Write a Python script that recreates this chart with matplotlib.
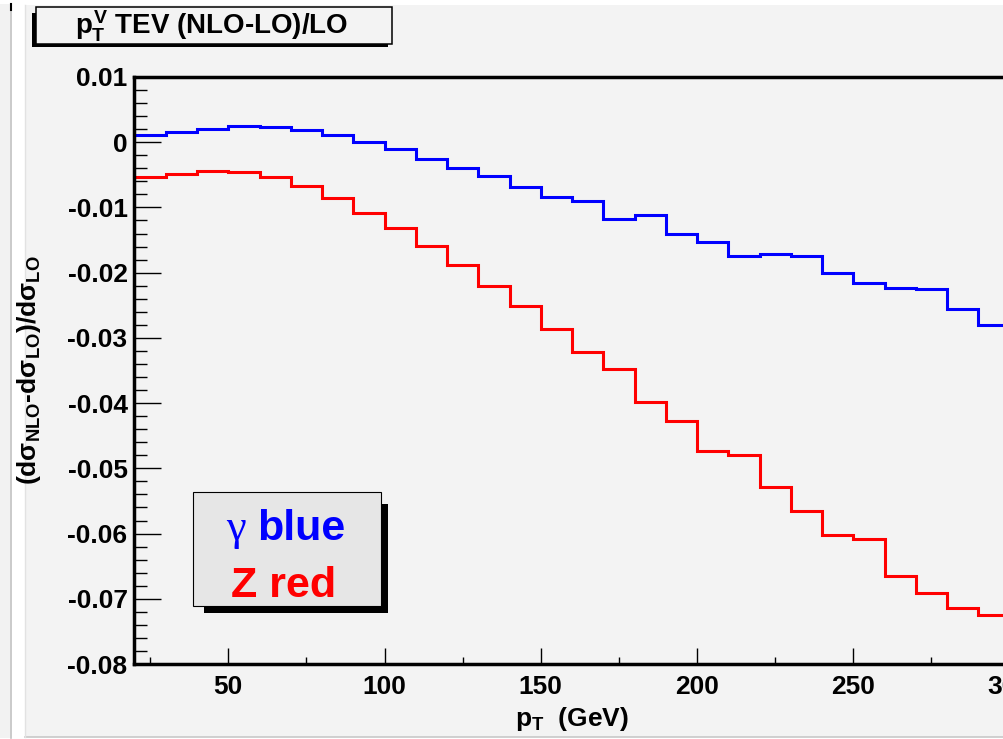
import matplotlib
matplotlib.use("Agg")
import matplotlib.pyplot as plt
from matplotlib.patches import Rectangle
from matplotlib.lines import Line2D
from matplotlib.ticker import MultipleLocator, FuncFormatter

# Fuentes estilo ROOT (Helvetica bold -> Liberation Sans bold)
plt.rcParams['font.family'] = ['Liberation Sans', 'DejaVu Sans']
plt.rcParams['font.weight'] = 'bold'
plt.rcParams['axes.labelweight'] = 'bold'
plt.rcParams['mathtext.fontset'] = 'custom'
plt.rcParams['mathtext.rm'] = 'Liberation Sans:bold'
plt.rcParams['mathtext.it'] = 'Liberation Sans:bold'
plt.rcParams['mathtext.bf'] = 'Liberation Sans:bold'

# Bordes de los bins (GeV)
edges = [20, 30, 40, 50, 60, 70, 80, 90, 100, 110, 120, 130, 140, 150, 160,
         170, 180, 190, 200, 210, 220, 230, 240, 250, 260, 270, 280, 290, 300]

# (NLO-LO)/LO para el foton (azul)
gamma_vals = [0.0011, 0.0016, 0.0021, 0.0025, 0.0024, 0.0019, 0.0011, 0.0000,
              -0.0011, -0.0025, -0.0039, -0.0052, -0.0068, -0.0084, -0.0090,
              -0.0118, -0.0112, -0.0141, -0.0153, -0.0175, -0.0171, -0.0175,
              -0.0201, -0.0216, -0.0224, -0.0225, -0.0256, -0.0280]

# (NLO-LO)/LO para el Z (rojo)
z_vals = [-0.0053, -0.0048, -0.0044, -0.0046, -0.0054, -0.0067, -0.0085,
          -0.0108, -0.0131, -0.0159, -0.0188, -0.0221, -0.0251, -0.0286,
          -0.0322, -0.0347, -0.0399, -0.0427, -0.0473, -0.0480, -0.0529,
          -0.0565, -0.0602, -0.0608, -0.0665, -0.0691, -0.0714, -0.0725]

W, H = 1004, 739
PAD = '#f3f3f3'


def fx(x):
    return x / W


def fy(y):
    return 1 - y / H


fig = plt.figure(figsize=(W / 100, H / 100), dpi=100)
fig.patch.set_facecolor('white')

# Fondo tipo canvas de ROOT
fig.patches.append(Rectangle((0, fy(738)), fx(12), (738 - 4) / H, transform=fig.transFigure,
                             facecolor='#f2f2f2', edgecolor='none', zorder=-10))
fig.lines.append(Line2D([fx(11.5), fx(11.5)], [fy(4), fy(738)], transform=fig.transFigure,
                        color='#c4c4c4', lw=1.2, zorder=-9))
fig.lines.append(Line2D([fx(11.5), fx(11.5)], [fy(4), fy(10)], transform=fig.transFigure,
                        color='black', lw=1.5, zorder=-8))
fig.patches.append(Rectangle((fx(25), fy(737)), fx(W - 25), (737 - 5) / H, transform=fig.transFigure,
                             facecolor=PAD, edgecolor='none', zorder=-10))
fig.lines.append(Line2D([fx(25), fx(W)], [fy(737), fy(737)], transform=fig.transFigure,
                        color='#c8c8c8', lw=1.2, zorder=-9))
fig.lines.append(Line2D([fx(25), fx(25)], [fy(5), fy(737)], transform=fig.transFigure,
                        color='#e2e2e2', lw=1.0, zorder=-9))

# Ejes (el borde derecho queda fuera de la imagen, como en el original)
ax = fig.add_axes([fx(134.5), fy(664), 875 / W, 587 / H])
ax.set_facecolor(PAD)
ax.stairs(gamma_vals, edges, baseline=None, color='#0000ff', lw=2.2)
ax.stairs(z_vals, edges, baseline=None, color='#ff0000', lw=2.2)

ax.set_xlim(20, 300)
ax.set_ylim(-0.08, 0.01)

for s in ['left', 'bottom', 'top']:
    ax.spines[s].set_linewidth(2.5)
ax.spines['right'].set_visible(False)

ax.xaxis.set_major_locator(MultipleLocator(50))
ax.xaxis.set_minor_locator(MultipleLocator(25))
ax.yaxis.set_major_locator(MultipleLocator(0.01))
ax.yaxis.set_minor_locator(MultipleLocator(0.002))


def yfmt(v, pos):
    if abs(v) < 1e-9:
        return '0'
    return f'{round(v, 3):g}'


ax.yaxis.set_major_formatter(FuncFormatter(yfmt))
ax.tick_params(axis='both', which='both', direction='in', width=1, labelsize=19)
ax.tick_params(axis='y', which='major', length=19.4, pad=5)
ax.tick_params(axis='y', which='minor', length=9.4)
ax.tick_params(axis='x', which='major', length=11.5, pad=8)
ax.tick_params(axis='x', which='minor', length=5)

ax.set_xlabel(r'p$_{T}$  (GeV)', fontsize=19, fontweight='bold')
ax.xaxis.set_label_coords(0.5, -0.07)
ax.set_ylabel(r'(dσ$_{NLO}$-dσ$_{LO}$)/dσ$_{LO}$', fontsize=19, fontweight='bold')
ax.yaxis.set_label_coords(-0.105, 0.5)

# Caja del titulo con sombra
fig.patches.append(Rectangle((fx(32), fy(47)), fx(388 - 32), (47 - 13) / H, transform=fig.transFigure,
                             facecolor='black', edgecolor='none', zorder=5))
fig.patches.append(Rectangle((fx(36), fy(44)), fx(392 - 36), (44 - 7) / H, transform=fig.transFigure,
                             facecolor=PAD, edgecolor='black', lw=1.1, zorder=6))
fig.text(fx(212), fy(34), r'$p_T^V$ TEV (NLO-LO)/LO', fontsize=20, ha='center', va='baseline', zorder=7)

# Caja de leyenda con sombra
fig.patches.append(Rectangle((fx(204), fy(613)), fx(388 - 204), (613 - 504) / H, transform=fig.transFigure,
                             facecolor='black', edgecolor='none', zorder=5))
fig.patches.append(Rectangle((fx(193), fy(606)), fx(381 - 193), (606 - 492) / H, transform=fig.transFigure,
                             facecolor='#e6e6e6', edgecolor='black', lw=0.8, zorder=6))
fig.text(fx(246), fy(540), 'γ', fontsize=32, family='Liberation Serif', fontweight='normal',
         color='#0000ff', ha='right', va='baseline', zorder=7)
fig.text(fx(257), fy(540), 'blue', fontsize=31, color='#0000ff', ha='left', va='baseline', zorder=7)
fig.text(fx(284), fy(597), 'Z red', fontsize=31, color='#ff0000', ha='center', va='baseline', zorder=7)

fig.savefig('out.png', dpi=100, facecolor=fig.get_facecolor())
